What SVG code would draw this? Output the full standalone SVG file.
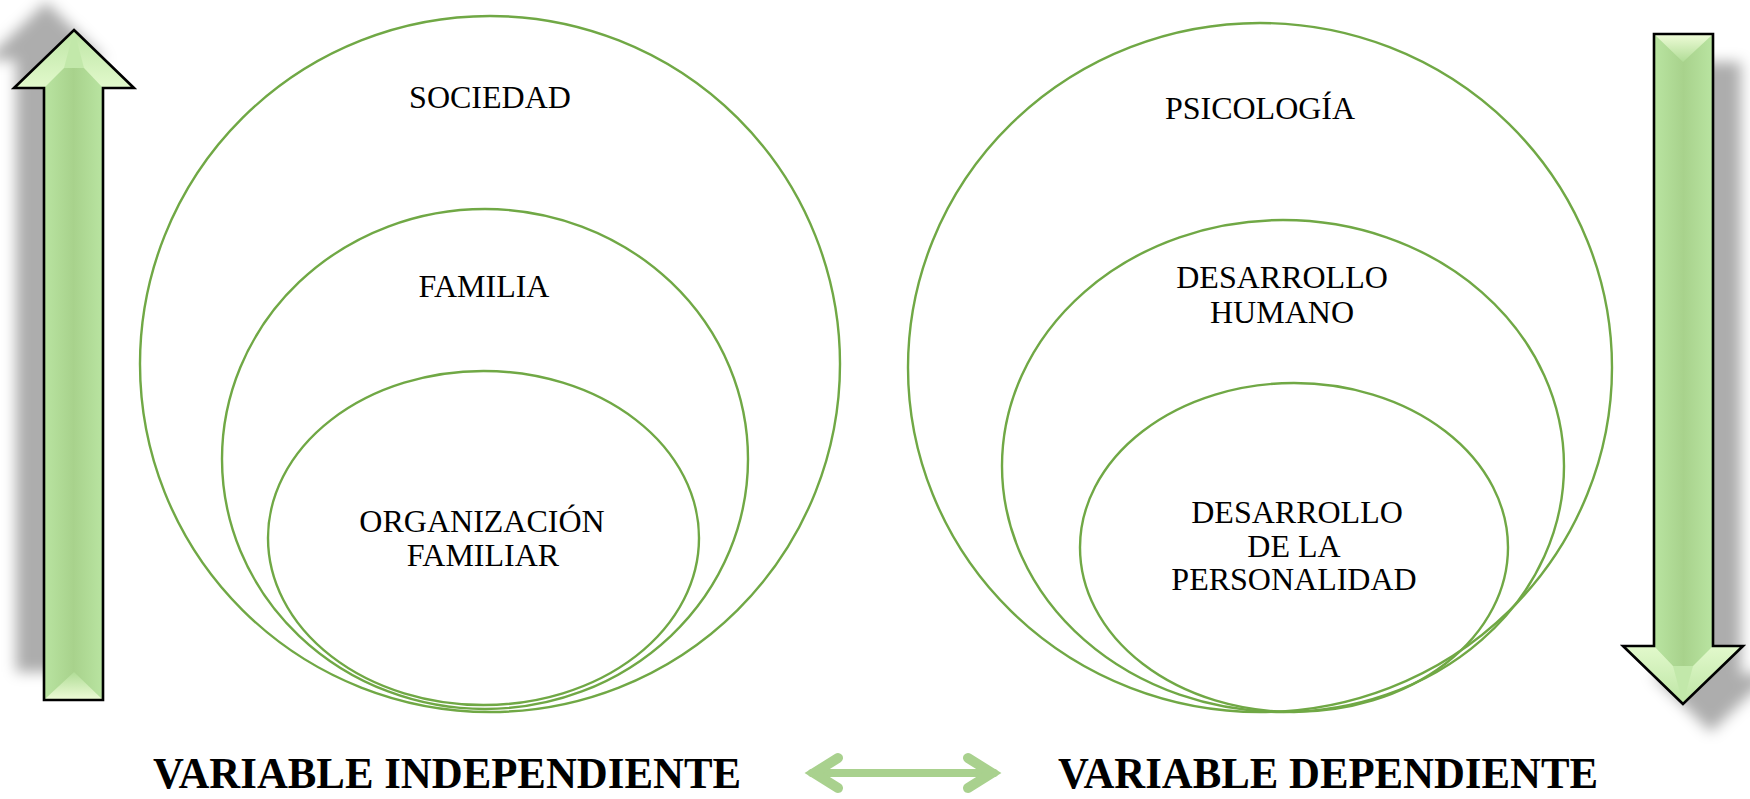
<svg xmlns="http://www.w3.org/2000/svg" xmlns:xlink="http://www.w3.org/1999/xlink" width="1750" height="799" viewBox="0 0 1750 799">
<defs>
<style>
.ring{fill:none;stroke:#70a845;stroke-width:2.4}
.lbl{font-family:"Liberation Serif","Times New Roman",serif;font-size:32px;fill:#000;text-anchor:middle}
.big{font-family:"Liberation Serif","Times New Roman",serif;font-size:44px;font-weight:bold;fill:#000}
.conn{fill:none;stroke:#a9d18e;stroke-linecap:round}
</style>
<filter id="blur" x="-60%" y="-15%" width="220%" height="130%">
<feGaussianBlur stdDeviation="7"/>
</filter>
<linearGradient id="shaft" gradientUnits="userSpaceOnUse" x1="44" y1="0" x2="103" y2="0">
<stop offset="0" stop-color="#b9e4a1"/>
<stop offset="0.5" stop-color="#a8d28c"/>
<stop offset="1" stop-color="#b9e4a1"/>
</linearGradient>
<linearGradient id="headG" gradientUnits="userSpaceOnUse" x1="0" y1="30" x2="0" y2="88">
<stop offset="0" stop-color="#bde5a4"/>
<stop offset="1" stop-color="#e2f9cc"/>
</linearGradient>
<linearGradient id="tailG" gradientUnits="userSpaceOnUse" x1="0" y1="672" x2="0" y2="700">
<stop offset="0" stop-color="#b0dc96"/>
<stop offset="1" stop-color="#effcd8"/>
</linearGradient>
<path id="arrowShape" d="M74,30 L134,88 L103,88 L103,700 L44,700 L44,88 L14,88 Z"/>
<g id="arrowBody">
<use xlink:href="#arrowShape" transform="translate(-28,-28)" fill="#000" fill-opacity="0.32" filter="url(#blur)"/>
<use xlink:href="#arrowShape" fill="url(#shaft)"/>
<path d="M74,30 L134,88 L103,88 L84,68 L64,68 L44,88 L14,88 Z" fill="url(#headG)"/>
<path d="M74,30 L84,68 L64,68 Z" fill="#c2e8aa"/>
<path d="M45,699 L102,699 L74,672 Z" fill="url(#tailG)"/>
<use xlink:href="#arrowShape" fill="none" stroke="#000" stroke-width="2.6" stroke-linejoin="miter"/>
</g>
</defs>
<rect width="1750" height="799" fill="#fff"/>

<g id="arrow-up">
<use xlink:href="#arrowBody"/>
</g>
<g id="arrow-down">
<use xlink:href="#arrowBody" transform="rotate(180 878.5 367)"/>
</g>

<g id="sociedad">
<ellipse class="ring" cx="490" cy="364" rx="350" ry="348"/>
<text class="lbl" x="490" y="108">SOCIEDAD</text>
</g>
<g id="familia">
<ellipse class="ring" cx="485" cy="459" rx="263" ry="250"/>
<text class="lbl" x="484" y="297">FAMILIA</text>
</g>
<g id="organizacion-familiar">
<ellipse class="ring" cx="483.5" cy="538" rx="215.5" ry="167"/>
<text class="lbl" x="482" y="532">ORGANIZACIÓN</text>
<text class="lbl" x="483" y="566">FAMILIAR</text>
</g>

<g id="psicologia">
<ellipse class="ring" cx="1260" cy="367.5" rx="352" ry="344.5"/>
<text class="lbl" x="1260" y="119">PSICOLOGÍA</text>
</g>
<g id="desarrollo-humano">
<ellipse class="ring" cx="1283" cy="466" rx="281" ry="246"/>
<text class="lbl" x="1282" y="288">DESARROLLO</text>
<text class="lbl" x="1282" y="323">HUMANO</text>
</g>
<g id="desarrollo-personalidad">
<ellipse class="ring" cx="1294" cy="547.5" rx="214" ry="164.5"/>
<text class="lbl" x="1297" y="523">DESARROLLO</text>
<text class="lbl" x="1294" y="557">DE LA</text>
<text class="lbl" x="1294" y="590">PERSONALIDAD</text>
</g>

<g id="var-independiente">
<text class="big" x="153" y="788" textLength="588" lengthAdjust="spacingAndGlyphs">VARIABLE INDEPENDIENTE</text>
</g>
<g id="var-dependiente">
<text class="big" x="1058" y="788" textLength="540" lengthAdjust="spacingAndGlyphs">VARIABLE DEPENDIENTE</text>
</g>

<g id="connectors">
<line class="conn" x1="812" y1="773" x2="994" y2="773" stroke-width="8" stroke-linecap="butt"/>
<polyline class="conn" points="838,758 814,773 838,788" stroke-width="10" stroke-linejoin="miter"/>
<polyline class="conn" points="968,758 992,773 968,788" stroke-width="10" stroke-linejoin="miter"/>
</g>
</svg>
